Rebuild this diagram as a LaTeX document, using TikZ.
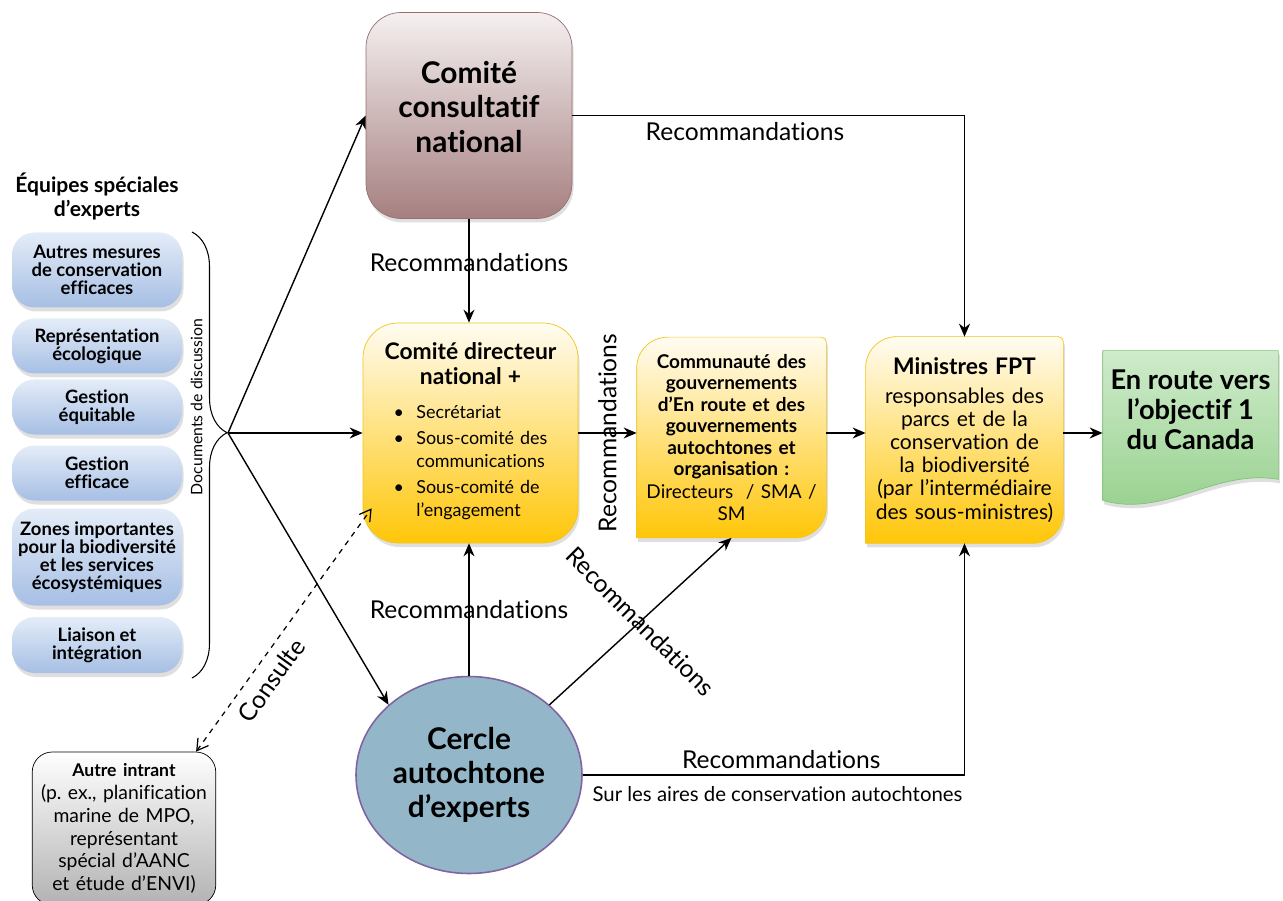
\documentclass[tikz,border=0pt]{standalone}
\usepackage{fontspec}
\setmainfont{Lato}[Ligatures=NoCommon]
\usepackage{tikz}
\usetikzlibrary{arrows.meta, positioning, shapes.geometric, shadows, backgrounds, decorations.pathreplacing}
\usepackage{xcolor}
\definecolor{expblue}{RGB}{166,191,228}
\definecolor{expbluetop}{RGB}{228,236,248}
\definecolor{ccntop}{RGB}{245,240,240}
\definecolor{ccnbot}{RGB}{166,127,128}
\definecolor{ccnedge}{RGB}{150,110,112}
\definecolor{goldtop}{RGB}{255,252,242}
\definecolor{goldbot}{RGB}{255,198,8}
\definecolor{goldedge}{RGB}{242,196,28}
\definecolor{greentop}{RGB}{206,235,203}
\definecolor{greenbot}{RGB}{150,208,140}
\definecolor{greenedge}{RGB}{128,194,122}
\definecolor{circfill}{RGB}{147,183,200}
\definecolor{circedge}{RGB}{128,100,162}
\definecolor{graybot}{RGB}{178,178,178}
\frenchspacing
\tikzset{
    softshadow/.style={drop shadow={opacity=0.25, shadow xshift=0.03cm, shadow yshift=-0.08cm}},
    % Expert task forces
    expbox/.style={rectangle, rounded corners=0.45cm, top color=expbluetop, bottom color=expblue,
                minimum width=3.4cm, align=center, inner sep=1pt,
                font=\fontsize{10.5}{10.2}\selectfont\bfseries, softshadow},
    exptitle/.style={align=center, font=\fontsize{12}{13.6}\selectfont\bfseries},
    doclbl/.style={font=\fontsize{9}{11}\selectfont},
    % Committees
    ccnbox/.style={rectangle, rounded corners=0.7cm, draw=ccnedge, top color=ccntop, bottom color=ccnbot,
                minimum width=4.12cm, minimum height=4.12cm, align=center, text depth=0.36cm,
                font=\fontsize{17}{19.6}\selectfont\bfseries, softshadow},
    cdnbox/.style={rectangle, rounded corners=0.7cm, draw=goldedge, top color=goldtop, bottom color=goldbot,
                minimum width=4.3cm, minimum height=4.4cm, text width=3.9cm, align=center,
                font=\fontsize{10.2}{13}\selectfont, softshadow},
    diagbox/.style={rectangle, minimum height=4cm, align=center, inner sep=2pt},
    goldshape/.style={draw=goldedge, top color=goldtop, bottom color=goldbot, softshadow},
    greenshape/.style={draw=greenedge, top color=greentop, bottom color=greenbot, softshadow},
    circbox/.style={ellipse, draw=circedge, line width=0.9pt, fill=circfill,
                minimum width=4.52cm, minimum height=3.94cm, inner sep=0pt, align=center,
                font=\fontsize{17}{19.3}\selectfont\bfseries},
    otherbox/.style={rectangle, rounded corners=0.4cm, draw=black, top color=white, bottom color=graybot,
                minimum width=3.64cm, minimum height=3.06cm, text width=3.6cm, align=center, inner sep=1pt,
                font=\fontsize{11}{13}\selectfont},
    % Connectors
    arr/.style={-{Stealth[length=2.6mm, width=2.2mm]}, line width=0.8pt},
    consult/.style={{Straight Barb[length=2.2mm, width=2.6mm]}-{Straight Barb[length=2.2mm, width=2.6mm]},
                dashed, line width=0.7pt},
    rec/.style={font=\fontsize{14}{16}\selectfont},
    subrec/.style={font=\fontsize{11.6}{13}\selectfont},
}

\begin{document}
\begin{tikzpicture}
\useasboundingbox (0,0) rectangle (25.66,-18.02);

% expert task forces
\node[expbox, minimum height=1.5cm]  (e1) at (1.94,-5.4)   {Autres mesures\\de conservation\\efficaces};
\node[expbox, minimum height=1.1cm]  (e2) at (1.94,-6.92)  {Représentation\\écologique};
\node[expbox, minimum height=1.1cm]  (e3) at (1.94,-8.14)  {Gestion\\équitable};
\node[expbox, minimum height=1.1cm]  (e4) at (1.94,-9.46)  {Gestion\\efficace};
\node[expbox, minimum height=1.94cm] (e5) at (1.94,-11.14) {Zones importantes\\pour la biodiversité\\et les services\\écosystémiques};
\node[expbox, minimum height=1.12cm] (e6) at (1.94,-12.9)  {Liaison et\\intégration};
\node[exptitle, above=0.12cm of e1] (etitle) {Équipes spéciales\\d’experts};

\draw[line width=0.6pt, decorate, decoration={brace, amplitude=0.7cm, aspect=0.45}] (3.84,-4.64) -- (3.84,-13.56);
\node[doclbl, rotate=90] (docs) at (3.93,-8.14) {Documents de discussion};
\coordinate (fan) at (4.56,-8.66);

% committees
\node[ccnbox] (ccn) at (9.38,-2.31) {Comité\\consultatif\\national};
\node[cdnbox] (cdn) at (9.41,-8.66) {%
    {\fontsize{13}{14.2}\selectfont\bfseries Comité directeur\\national +\par}\vspace{9pt}
    \begin{tabular}{@{}l@{\hspace{7pt}}l@{}}
    \textbullet & Secrétariat\\[2pt]
    \textbullet & Sous-comité des\\
                & communications\\[2pt]
    \textbullet & Sous-comité de\\
                & l’engagement
    \end{tabular}};
\node[diagbox, minimum width=3.78cm, text width=3.6cm, font=\fontsize{10.8}{12.2}\selectfont] (com) at (14.63,-8.75) {%
    {\bfseries Communauté des\\gouvernements\\d’En route et des\\gouvernements\\autochtones et\\organisation :\par}\vspace{1pt}
    Directeurs\ \ / SMA /\\SM};
\node[diagbox, minimum width=3.94cm, minimum height=4.12cm, text width=3.8cm, font=\fontsize{12}{13.2}\selectfont] (fpt) at (19.29,-8.8) {%
    {\fontsize{13}{14}\selectfont\bfseries Ministres FPT\par}\vspace{3pt}
    responsables des\\parcs et de la\\conservation de\\la biodiversité\\(par l’intermédiaire\\des sous-ministres)};
\node[rectangle, minimum width=3.5cm, minimum height=2.56cm, align=center, text depth=0.2cm,
      font=\fontsize{15.5}{17}\selectfont\bfseries] (enroute) at (23.81,-8.3) {En route vers\\l’objectif 1\\du Canada};
\node[circbox] (cercle) at (9.38,-15.5) {Cercle\\autochtone\\d’experts};
\node[otherbox] (autre) at (2.48,-16.57) {{\fontsize{10}{13}\selectfont\bfseries Autre intrant\par}(p. ex., planification\\marine de MPO,\\représentant\\spécial d’AANC\\et étude d’ENVI)};

\begin{scope}[on background layer]
\foreach \n in {com, fpt} {
    \path[goldshape] (\n.south west) -- ([yshift=-0.62cm]\n.north west)
        arc[start angle=180, end angle=90, radius=0.62cm] -- ([xshift=-0.1cm]\n.north east)
        arc[start angle=90, end angle=0, radius=0.1cm] -- ([yshift=0.62cm]\n.south east)
        arc[start angle=0, end angle=-90, radius=0.62cm] -- cycle;
}
\path[greenshape] (enroute.north west) -- (enroute.north east) -- (enroute.south east)
    .. controls +(-1.26,0.22) and +(1.24,-0.36) .. ([yshift=-0.42cm]enroute.south west) -- cycle;
\end{scope}

% connectors
\draw[arr] (fan) -- (ccn.west);
\draw[arr] (fan) -- (cdn.west);
\draw[arr] (fan) -- (cercle.north west);
\draw[arr] (ccn.south) -- node[rec, pos=0.42] {Recommandations} (ccn.south |- cdn.north);
\draw[arr] (ccn.east) -| node[rec, below, pos=0.22] {Recommandations} (fpt.north);
\draw[arr] (cdn.east) -- node[rec, rotate=90] {Recommandations} (cdn.east -| com.west);
\draw[arr] (com.east |- cdn.east) -- (fpt.west |- cdn.east);
\draw[arr] (fpt.east |- cdn.east) -- (enroute.west |- cdn.east);
\draw[arr] (cercle.north) -- node[rec] {Recommandations} (cercle.north |- cdn.south);
\draw[arr] (cercle.north east) -- node[rec, rotate=-45] {Recommandations} (com.south);
\draw[arr] (cercle.east) -| node[rec, above, pos=0.26] {Recommandations}
    node[subrec, below=3pt, pos=0.255] {Sur les aires de conservation autochtones} (fpt.south);
\draw[consult] ([xshift=-0.4cm]autre.north east) -- node[rec, sloped, below=2pt, pos=0.34] {Consulte}
    ([xshift=0.18cm, yshift=0.7cm]cdn.south west);
\end{tikzpicture}
\end{document}
